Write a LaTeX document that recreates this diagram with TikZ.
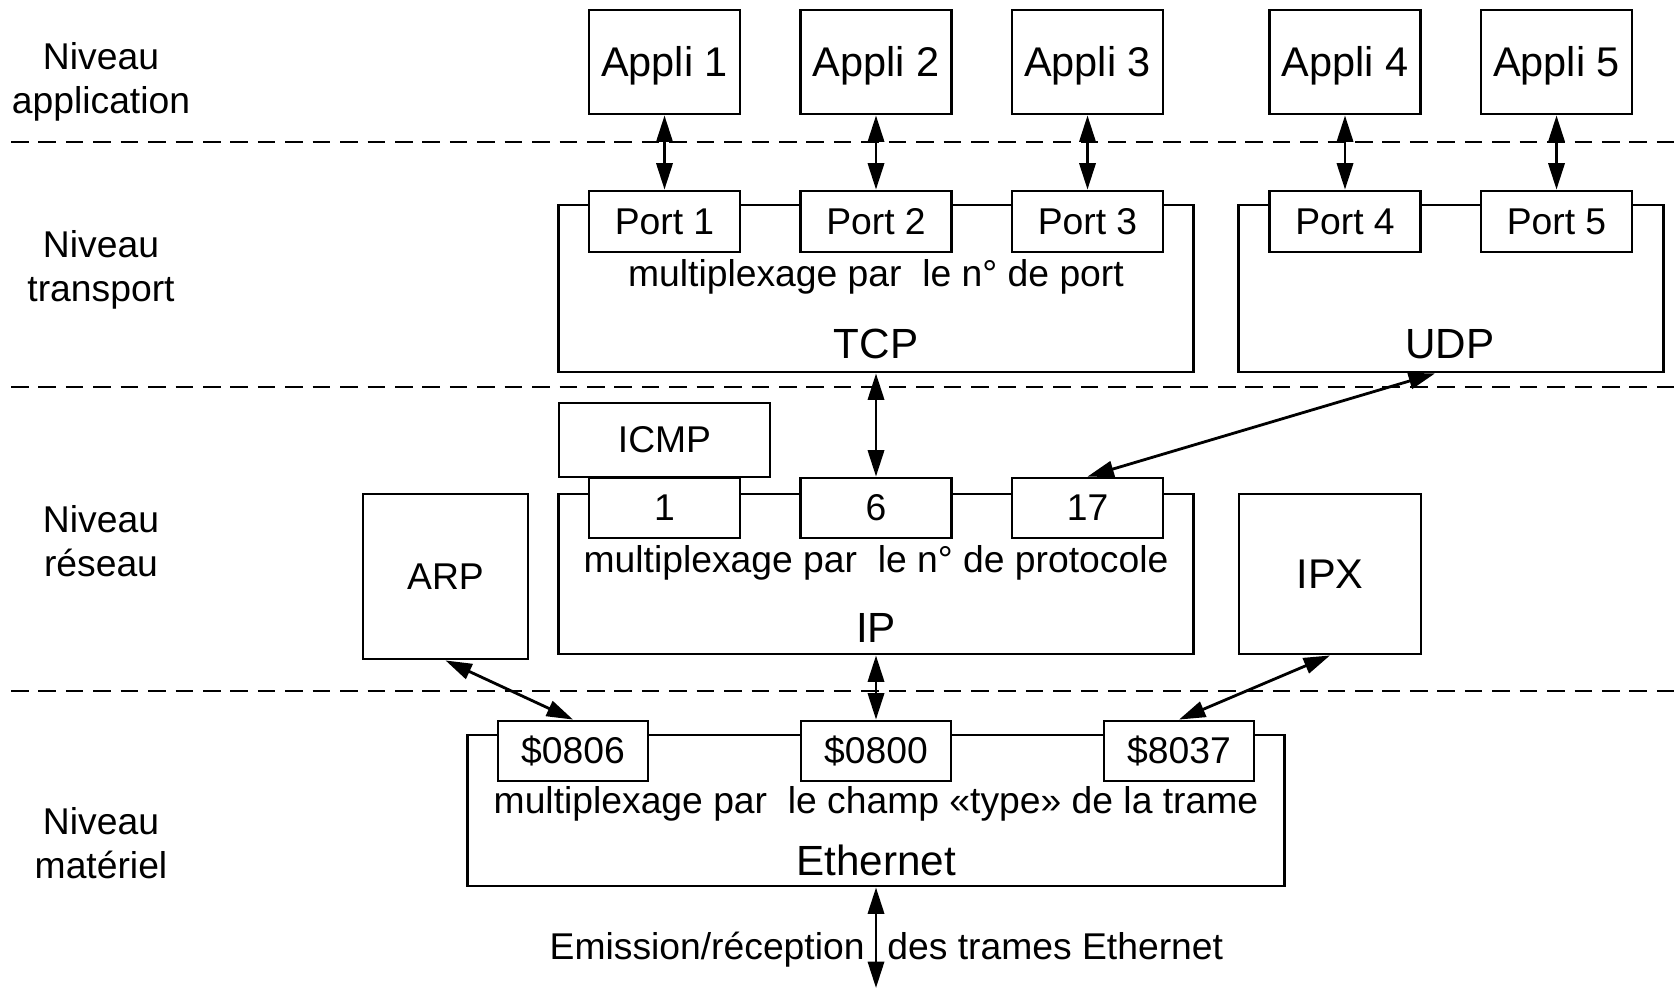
\documentclass[tikz,border=0pt]{standalone}
\usepackage{fontspec}
\setmainfont{Liberation Sans}
\usetikzlibrary{arrows.meta}

\tikzset{
  box/.style={draw, line width=0.8pt, fill=white, inner sep=0pt,
    font=\fontsize{10.6}{12}\selectfont},
  bigbox/.style={box, font=\fontsize{11.8}{14}\selectfont},
  sep/.style={dash pattern=on 5pt off 2.8pt, line width=0.6pt},
  link/.style={<->, >={Triangle[length=7.5pt,width=4.6pt]}, line width=0.8pt},
  txt/.style={inner sep=0pt, align=center, font=\fontsize{10.6}{12.5}\selectfont},
  bigtxt/.style={inner sep=0pt, font=\fontsize{12}{14}\selectfont},
}

\begin{document}
\begin{tikzpicture}[x=0.01cm, y=-0.01cm]
\useasboundingbox (0,0) rectangle (1675,988);

% separations between the levels
\draw[sep] (11,142) -- (1675,142);
\draw[sep] (11,387) -- (1675,387);
\draw[sep] (11,691) -- (1675,691);

% level names
\node[txt] (lapp) at (101,82) {Niveau\\application};
\node[txt] (ltra) at (101,270) {Niveau\\transport};
\node[txt] (lres) at (101,541) {Niveau\\réseau};
\node[txt] (lmat) at (101,843) {Niveau\\matériel};

% transport level
\node[box, minimum width=6.34cm, minimum height=1.67cm] (tcp) at (876,288.5) {};
\node[box, minimum width=4.24cm, minimum height=1.67cm] (udp) at (1451,288.5) {};
\node[txt] (tcpmux) at (876,277) {multiplexage par\ \ le n° de port};
\node[bigtxt] (tcpname) at (876,344) {TCP};
\node[bigtxt] (udpname) at (1450,344) {UDP};

% applications and their ports
\foreach \n/\x in {1/664.5,2/876,3/1087.5,4/1345,5/1556.5}{
  \node[bigbox, minimum width=1.51cm, minimum height=1.04cm,
    text height=1em, text depth=0.2em] (app\n) at (\x,62) {Appli \n};
  \node[box, minimum width=1.51cm, minimum height=0.61cm] (port\n) at (\x,221.5) {Port \n};
  \draw[link] (app\n) -- (port\n);
}

% network level
\node[box, minimum width=2.11cm, minimum height=0.74cm] (icmp) at (664.5,440) {ICMP};
\node[box, minimum width=6.34cm, minimum height=1.6cm] (ip) at (876,574) {};
\node[txt] (ipmux) at (876,563) {multiplexage par\ \ le n° de protocole};
\node[bigtxt] (ipname) at (876,628) {IP};
\node[box, minimum width=1.51cm, minimum height=0.6cm] (proto1) at (664.5,508) {1};
\node[box, minimum width=1.51cm, minimum height=0.6cm] (proto6) at (876,508) {6};
\node[box, minimum width=1.51cm, minimum height=0.6cm] (proto17) at (1087.5,508) {17};
\node[box, minimum width=1.65cm, minimum height=1.65cm] (arp) at (445.5,576.5) {ARP};
\node[bigbox, minimum width=1.82cm, minimum height=1.6cm] (ipx) at (1330,574) {IPX};

\draw[link] (tcp) -- (proto6);
\draw[link] ([xshift=-0.16cm]udp.south) -- (proto17.north);

% hardware level
\node[box, minimum width=8.16cm, minimum height=1.51cm] (eth) at (876,810.5) {};
\node[txt] (ethmux) at (876,804) {multiplexage par\ \ le champ «type» de la trame};
\node[bigtxt] (ethname) at (876,860) {Ethernet};
\node[box, minimum width=1.5cm, minimum height=0.6cm] (t0806) at (573,751) {\$0806};
\node[box, minimum width=1.5cm, minimum height=0.6cm] (t0800) at (876,751) {\$0800};
\node[box, minimum width=1.5cm, minimum height=0.6cm] (t8037) at (1179,751) {\$8037};

\draw[link] (arp.south) -- (t0806.north);
\draw[link] (ip) -- (t0800);
\draw[link] (ipx.south) -- (t8037.north);

% frames in and out
\coordinate (wire) at (876,988);
\draw[link] (eth) -- (wire)
  node[txt, pos=0.72, anchor=base east, xshift=-0.1cm] {Emission/réception}
  node[txt, pos=0.72, anchor=base west, xshift=0.1cm] {des trames Ethernet};
\end{tikzpicture}
\end{document}
